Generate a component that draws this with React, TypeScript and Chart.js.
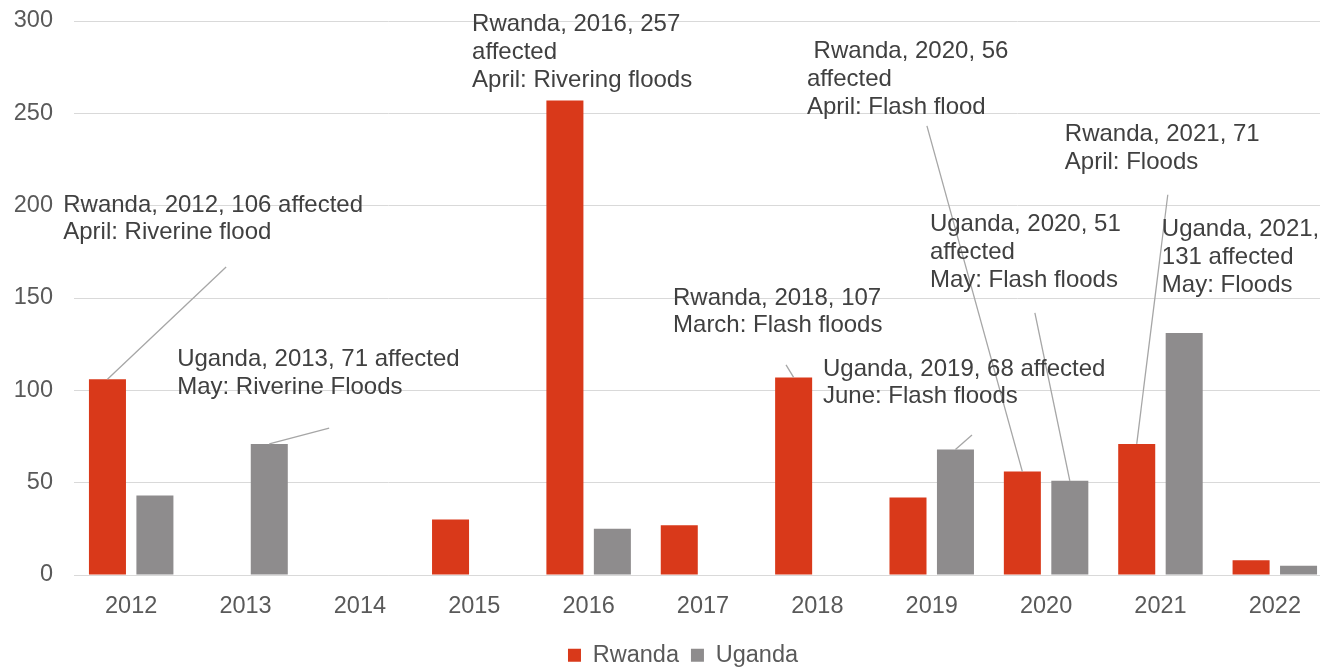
import React, { useEffect, useRef } from "react";
import { Chart, registerables } from "chart.js";

Chart.register(...registerables);

const years = ["2012", "2013", "2014", "2015", "2016", "2017", "2018", "2019", "2020", "2021", "2022"];
const rwanda: (number | null)[] = [106, null, null, 30, 257, 27, 107, 42, 56, 71, 8];
const uganda: (number | null)[] = [43, 71, null, null, 25, null, null, 68, 51, 131, 5];
const seriesNames = ["Rwanda", "Uganda"];
const yMax = 300;
const yStep = 50;

// Annotation callouts: text anchor (category index, value), optional leader start and target [dataset, index]
type Note = { lines: string[]; x: number; y: number; from?: [number, number]; target?: [number, number] };
const notes: Note[] = [
  { lines: ["Rwanda, 2012, 106 affected", "April: Riverine flood"], x: -0.594, y: 200.4, from: [0.83, 166.8], target: [0, 0] },
  { lines: ["Uganda, 2013, 71 affected", "May: Riverine Floods"], x: 0.402, y: 116.5, from: [1.731, 79.6], target: [1, 1] },
  { lines: ["Rwanda, 2016, 257", "affected", "April: Rivering floods"], x: 2.981, y: 298 },
  { lines: [" Rwanda, 2020, 56", "affected", "April: Flash flood"], x: 5.909, y: 283.3, from: [6.958, 243.2], target: [0, 8] },
  { lines: ["Rwanda, 2018, 107", "March: Flash floods"], x: 4.738, y: 150, from: [5.726, 113.8], target: [0, 6] },
  { lines: ["Uganda, 2019, 68 affected", "June: Flash floods"], x: 6.049, y: 111.6, from: [7.352, 75.8], target: [1, 7] },
  { lines: ["Uganda, 2020, 51", "affected", "May: Flash floods"], x: 6.984, y: 189.6, from: [7.902, 141.9], target: [1, 8] },
  { lines: ["Rwanda, 2021, 71", "April: Floods"], x: 8.164, y: 238.4, from: [9.064, 205.9], target: [0, 9] },
  { lines: ["Uganda, 2021,", "131 affected", "May: Floods"], x: 9.012, y: 186.9 },
];

const FONT = '"Liberation Sans", Arial, sans-serif';

const notesPlugin = {
  id: "notes",
  afterDatasetsDraw(chart: any) {
    const { ctx } = chart;
    const xs = chart.scales.x;
    const ys = chart.scales.y;
    ctx.save();
    ctx.strokeStyle = "#A6A6A6";
    ctx.lineWidth = 1.3;
    notes.forEach((n) => {
      if (n.from && n.target) {
        const el = chart.getDatasetMeta(n.target[0]).data[n.target[1]];
        ctx.beginPath();
        ctx.moveTo(xs.getPixelForValue(n.from[0]), ys.getPixelForValue(n.from[1]));
        ctx.lineTo(el.x, el.y);
        ctx.stroke();
      }
    });
    ctx.font = `24px ${FONT}`;
    ctx.fillStyle = "#404040";
    ctx.textBaseline = "middle";
    ctx.textAlign = "left";
    notes.forEach((n) => {
      const px = xs.getPixelForValue(n.x);
      const py = ys.getPixelForValue(n.y);
      n.lines.forEach((l, i) => ctx.fillText(l, px, py + i * 27.6));
    });
    ctx.restore();
  },
};

const legendShift = {
  id: "legendShift",
  afterLayout(chart: any) {
    const l = chart.legend;
    if (!l) return;
    l.left += 17;
    l.right += 17;
    l.top += 10;
    l.bottom += 10;
  },
};

export default function App() {
  const ref = useRef<HTMLCanvasElement | null>(null);
  useEffect(() => {
    if (!ref.current) return;
    const chart = new Chart(ref.current, {
      type: "bar",
      data: {
        labels: years,
        datasets: [
          { label: seriesNames[0], data: rwanda, backgroundColor: "#D9391A", categoryPercentage: 0.83, barPercentage: 0.78 },
          { label: seriesNames[1], data: uganda, backgroundColor: "#8E8C8D", categoryPercentage: 0.83, barPercentage: 0.78 },
        ],
      },
      options: {
        responsive: false,
        animation: false,
        layout: { padding: { top: 21, left: 0, right: 0, bottom: 0 } },
        plugins: {
          tooltip: { enabled: false },
          legend: {
            position: "bottom",
            labels: {
              boxWidth: 13,
              boxHeight: 13,
              padding: 12,
              color: "#595959",
              font: { family: FONT, size: 23.5 },
            },
          },
        },
        scales: {
          x: {
            grid: { display: false, drawTicks: false },
            border: { display: true, color: "#D9D9D9" },
            ticks: { color: "#595959", font: { family: FONT, size: 23.5 }, padding: 17, maxRotation: 0 },
            afterFit: (s: any) => {
              s.height = 46.5;
            },
          },
          y: {
            min: 0,
            max: yMax,
            grid: { color: "#D9D9D9", lineWidth: 1, drawTicks: false },
            border: { display: false },
            ticks: { stepSize: yStep, color: "#595959", font: { family: FONT, size: 23.5 }, padding: 21 },
            afterFit: (s: any) => {
              s.width = 74;
              s.paddingTop = 0;
              s.paddingBottom = 0;
            },
          },
        },
      },
      plugins: [notesPlugin, legendShift],
    });
    return () => chart.destroy();
  }, []);
  return (
    <div style={{ position: "fixed", left: 0, top: 0, width: 1320, height: 667, overflow: "hidden", background: "#fff" }}>
      <canvas ref={ref} width={1332} height={667} style={{ width: 1332, height: 667, display: "block" }} />
    </div>
  );
}
